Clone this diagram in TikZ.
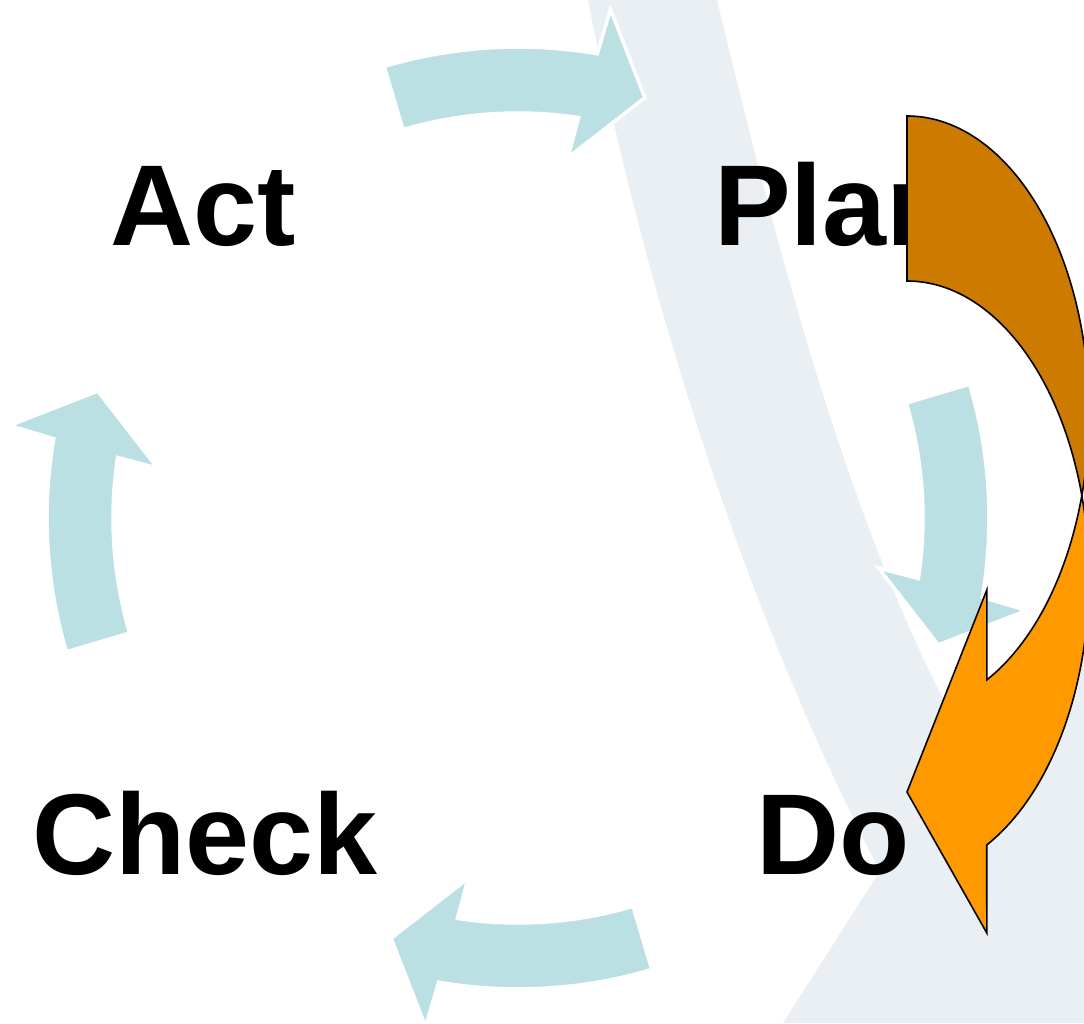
\documentclass[tikz,border=0pt]{standalone}
\usepackage{fontspec}
\setmainfont{Liberation Sans}
\definecolor{bandgray}{RGB}{233,239,243}
\definecolor{cyclefill}{RGB}{187,224,227}
\definecolor{orangedark}{RGB}{204,122,0}
\definecolor{orangelight}{RGB}{255,153,0}
\begin{document}
\begin{tikzpicture}[x=1pt,y=1pt,
  cyclearrow/.style={fill=cyclefill, draw=white, line width=3.5pt, line join=miter},
  stagetext/.style={font=\fontsize{115}{118}\selectfont\bfseries, anchor=base west, inner sep=0pt, text=black},
  backface/.style={fill=orangedark, draw=black, line width=1.6pt, line join=miter},
  frontface/.style={fill=orangelight, draw=black, line width=1.6pt, line join=miter}]

% canvas
\clip (0,0) rectangle (1084,1023);
\fill[white] (0,0) rectangle (1084,1023);

% background swoosh
\fill[bandgray]
  (588,1023) .. controls (640,750) and (740,420) .. (880,152)
  -- (783,0) -- (1084,0) -- (1084,373) -- (1000,323) -- (950,311)
  .. controls (850,500) and (780,760) .. (717,1023) -- cycle;

% four curved arrows of the cycle
\foreach \r in {0,-90,-180,-270} {
  \begin{scope}[shift={(518,505)}, rotate=\r]
    \draw[cyclearrow] (106.5:471) arc[start angle=106.5, end angle=80.3, radius=471]
      -- (79.7:517) -- (73.2:439) -- (82.1:364) -- (81.4:405)
      arc[start angle=81.4, end angle=106.5, radius=405] -- cycle;
  \end{scope}
}

% stage labels
\node[stagetext] (act) at (110,777) {Act};
\node[stagetext] (plan) at (714,777) {Plan};
\node[stagetext] (check) at (32,149) {Check};
\node[stagetext] (do) at (756,149) {Do};

% curved orange arrow: back face
\draw[backface] (907,907)
  arc[start angle=90, end angle=-16.13, x radius=182, y radius=297]
  arc[start angle=16.13, end angle=90, x radius=182, y radius=297] -- cycle;

% curved orange arrow: front face with head
\draw[frontface] (1081.8,527.5)
  arc[start angle=16.13, end angle=-64, x radius=182, y radius=297]
  -- (986.8,90) -- (907,231) -- (986.8,433) -- (986.8,343.1)
  arc[start angle=-64, end angle=-16.13, x radius=182, y radius=297] -- cycle;
\end{tikzpicture}
\end{document}
